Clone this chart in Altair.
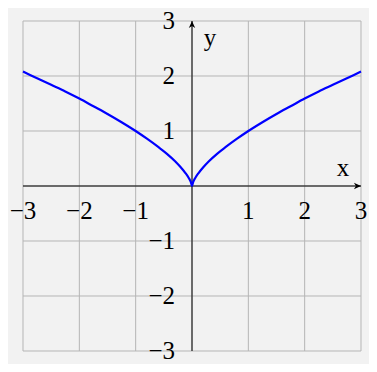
import altair as alt
import pandas as pd

# curve values
curve_x = [-3, -2.75, -2.5, -2.25, -2, -1.75, -1.5, -1.25, -1, -0.8, -0.6, -0.45, -0.3, -0.2, -0.12, -0.06, -0.02, 0,
           0.02, 0.06, 0.12, 0.2, 0.3, 0.45, 0.6, 0.8, 1, 1.25, 1.5, 1.75, 2, 2.25, 2.5, 2.75, 3]
curve_y = [2.08, 1.96, 1.84, 1.72, 1.59, 1.45, 1.31, 1.16, 1.0, 0.86, 0.71, 0.59, 0.45, 0.34, 0.24, 0.15, 0.07, 0,
           0.07, 0.15, 0.24, 0.34, 0.45, 0.59, 0.71, 0.86, 1.0, 1.16, 1.31, 1.45, 1.59, 1.72, 1.84, 1.96, 2.08]

grid_vals = [-3, -2, -1, 0, 1, 2, 3]
tick_vals = [-3, -2, -1, 1, 2, 3]
tick_labels = ["−3", "−2", "−1", "1", "2", "3"]

curve = pd.DataFrame({"x": curve_x, "y": curve_y})
grid = pd.DataFrame({"v": grid_vals})
xt = pd.DataFrame({"x": tick_vals, "y": [0] * 6, "t": tick_labels})
yt = pd.DataFrame({"x": [0] * 6, "y": tick_vals, "t": tick_labels})

xs = alt.Scale(domain=[-3, 3], nice=False, zero=False)
ys = alt.Scale(domain=[-3, 3], nice=False, zero=False)
X = lambda f: alt.X(f, type="quantitative", scale=xs, axis=None)
Y = lambda f: alt.Y(f, type="quantitative", scale=ys, axis=None)

FONT = "Liberation Serif"
FS = 25
GRID = "#b5b5b5"

vgrid = alt.Chart(grid).mark_rule(color=GRID, strokeWidth=1).encode(x=X("v"))
hgrid = alt.Chart(grid).mark_rule(color=GRID, strokeWidth=1).encode(y=Y("v"))

axes = pd.DataFrame({"x1": [-3, 0], "x2": [3, 0], "y1": [0, -3], "y2": [0, 3]})
axis_lines = alt.Chart(axes).mark_rule(color="black", strokeWidth=1).encode(
    x=X("x1"), x2="x2", y=Y("y1"), y2="y2")

arrow_shape = "M0,0 L-1,-0.45 L-0.72,0 L-1,0.45 Z"
arrows = pd.DataFrame({"x": [3, 0], "y": [0, 3], "a": [0, 270]})
arrow_marks = alt.Chart(arrows).mark_point(
    shape=arrow_shape, filled=True, color="black", opacity=1, size=200, strokeWidth=0
).encode(x=X("x"), y=Y("y"), angle=alt.Angle("a:Q", scale=None))

line = alt.Chart(curve).mark_line(color="#0000ff", strokeWidth=2.2, interpolate="monotone").encode(
    x=X("x"), y=Y("y"))

xlab = alt.Chart(xt).mark_text(font=FONT, fontSize=FS, align="center", baseline="middle", dy=25,
                               color="black").encode(x=X("x"), y=Y("y"), text="t")
ylab = alt.Chart(yt).mark_text(font=FONT, fontSize=FS, align="right", baseline="middle", dx=-17,
                               color="black").encode(x=X("x"), y=Y("y"), text="t")

xname = alt.Chart(pd.DataFrame({"x": [3], "y": [0], "t": ["x"]})).mark_text(
    font=FONT, fontSize=FS, align="center", baseline="middle", dx=-18, dy=-18, color="black").encode(
    x=X("x"), y=Y("y"), text="t")
yname = alt.Chart(pd.DataFrame({"x": [0], "y": [3], "t": ["y"]})).mark_text(
    font=FONT, fontSize=FS, align="center", baseline="middle", dx=18, dy=17, color="black").encode(
    x=X("x"), y=Y("y"), text="t")

chart = alt.layer(vgrid, hgrid, axis_lines, line, arrow_marks, xlab, ylab, xname, yname).properties(
    width=338, height=330,
    padding={"left": 15, "top": 13, "right": 8, "bottom": 13},
    autosize=alt.AutoSizeParams(type="none"),
    background="#f2f2f2",
).configure_view(stroke=None)

chart.save("out.html", embed_options={"renderer": "svg", "actions": False})
